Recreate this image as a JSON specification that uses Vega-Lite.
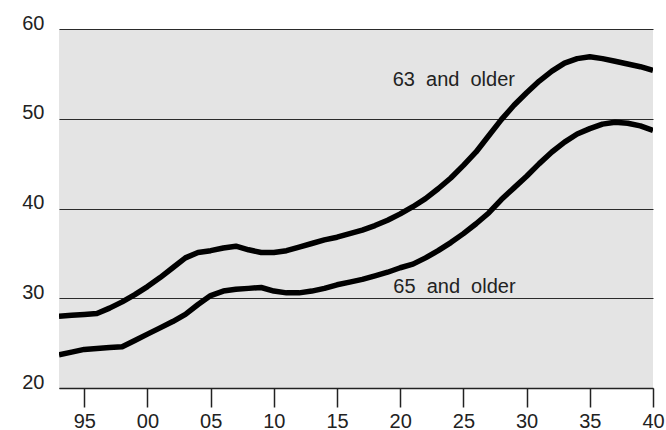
{
  "$schema": "https://vega.github.io/schema/vega-lite/v6.json",
  "autosize": {"type": "none"},
  "padding": {"left": 59, "top": 29, "right": 13, "bottom": 42},
  "width": 594,
  "height": 359,
  "config": {
    "view": {"fill": "#e4e4e4", "stroke": null},
    "font": "Liberation Sans"
  },
  "datasets": {
    "series": [
      {"year": 1993, "group": "63", "value": 28.0},
      {"year": 1994, "group": "63", "value": 28.1},
      {"year": 1995, "group": "63", "value": 28.2},
      {"year": 1996, "group": "63", "value": 28.3},
      {"year": 1997, "group": "63", "value": 28.9},
      {"year": 1998, "group": "63", "value": 29.6},
      {"year": 1999, "group": "63", "value": 30.4},
      {"year": 2000, "group": "63", "value": 31.3},
      {"year": 2001, "group": "63", "value": 32.3},
      {"year": 2002, "group": "63", "value": 33.4},
      {"year": 2003, "group": "63", "value": 34.5},
      {"year": 2004, "group": "63", "value": 35.1},
      {"year": 2005, "group": "63", "value": 35.3},
      {"year": 2006, "group": "63", "value": 35.6},
      {"year": 2007, "group": "63", "value": 35.8},
      {"year": 2008, "group": "63", "value": 35.4},
      {"year": 2009, "group": "63", "value": 35.1},
      {"year": 2010, "group": "63", "value": 35.1},
      {"year": 2011, "group": "63", "value": 35.3},
      {"year": 2012, "group": "63", "value": 35.7},
      {"year": 2013, "group": "63", "value": 36.1},
      {"year": 2014, "group": "63", "value": 36.5},
      {"year": 2015, "group": "63", "value": 36.8},
      {"year": 2016, "group": "63", "value": 37.2},
      {"year": 2017, "group": "63", "value": 37.6},
      {"year": 2018, "group": "63", "value": 38.1},
      {"year": 2019, "group": "63", "value": 38.7},
      {"year": 2020, "group": "63", "value": 39.4},
      {"year": 2021, "group": "63", "value": 40.2},
      {"year": 2022, "group": "63", "value": 41.1},
      {"year": 2023, "group": "63", "value": 42.2},
      {"year": 2024, "group": "63", "value": 43.4},
      {"year": 2025, "group": "63", "value": 44.8},
      {"year": 2026, "group": "63", "value": 46.3},
      {"year": 2027, "group": "63", "value": 48.1},
      {"year": 2028, "group": "63", "value": 49.9},
      {"year": 2029, "group": "63", "value": 51.5},
      {"year": 2030, "group": "63", "value": 52.9},
      {"year": 2031, "group": "63", "value": 54.2},
      {"year": 2032, "group": "63", "value": 55.3},
      {"year": 2033, "group": "63", "value": 56.2},
      {"year": 2034, "group": "63", "value": 56.7},
      {"year": 2035, "group": "63", "value": 56.9},
      {"year": 2036, "group": "63", "value": 56.7},
      {"year": 2037, "group": "63", "value": 56.4},
      {"year": 2038, "group": "63", "value": 56.1},
      {"year": 2039, "group": "63", "value": 55.8},
      {"year": 2040, "group": "63", "value": 55.4},
      {"year": 1993, "group": "65", "value": 23.7},
      {"year": 1994, "group": "65", "value": 24.0},
      {"year": 1995, "group": "65", "value": 24.3},
      {"year": 1996, "group": "65", "value": 24.4},
      {"year": 1997, "group": "65", "value": 24.5},
      {"year": 1998, "group": "65", "value": 24.6},
      {"year": 1999, "group": "65", "value": 25.3},
      {"year": 2000, "group": "65", "value": 26.0},
      {"year": 2001, "group": "65", "value": 26.7},
      {"year": 2002, "group": "65", "value": 27.4},
      {"year": 2003, "group": "65", "value": 28.2},
      {"year": 2004, "group": "65", "value": 29.3},
      {"year": 2005, "group": "65", "value": 30.3},
      {"year": 2006, "group": "65", "value": 30.8},
      {"year": 2007, "group": "65", "value": 31.0},
      {"year": 2008, "group": "65", "value": 31.1},
      {"year": 2009, "group": "65", "value": 31.2},
      {"year": 2010, "group": "65", "value": 30.8},
      {"year": 2011, "group": "65", "value": 30.6},
      {"year": 2012, "group": "65", "value": 30.6},
      {"year": 2013, "group": "65", "value": 30.8},
      {"year": 2014, "group": "65", "value": 31.1},
      {"year": 2015, "group": "65", "value": 31.5},
      {"year": 2016, "group": "65", "value": 31.8},
      {"year": 2017, "group": "65", "value": 32.1},
      {"year": 2018, "group": "65", "value": 32.5},
      {"year": 2019, "group": "65", "value": 32.9},
      {"year": 2020, "group": "65", "value": 33.4},
      {"year": 2021, "group": "65", "value": 33.8},
      {"year": 2022, "group": "65", "value": 34.5},
      {"year": 2023, "group": "65", "value": 35.3},
      {"year": 2024, "group": "65", "value": 36.2},
      {"year": 2025, "group": "65", "value": 37.2},
      {"year": 2026, "group": "65", "value": 38.3},
      {"year": 2027, "group": "65", "value": 39.5},
      {"year": 2028, "group": "65", "value": 41.0},
      {"year": 2029, "group": "65", "value": 42.3},
      {"year": 2030, "group": "65", "value": 43.6},
      {"year": 2031, "group": "65", "value": 45.0},
      {"year": 2032, "group": "65", "value": 46.3},
      {"year": 2033, "group": "65", "value": 47.4},
      {"year": 2034, "group": "65", "value": 48.3},
      {"year": 2035, "group": "65", "value": 48.9},
      {"year": 2036, "group": "65", "value": 49.4},
      {"year": 2037, "group": "65", "value": 49.6},
      {"year": 2038, "group": "65", "value": 49.5},
      {"year": 2039, "group": "65", "value": 49.2},
      {"year": 2040, "group": "65", "value": 48.7}
    ],
    "labels": [
      {"year": 2019.4, "value": 53.6, "label": "63\u00a0 and\u00a0 older"},
      {"year": 2019.45, "value": 30.6, "label": "65\u00a0 and\u00a0 older"}
    ]
  },
  "layer": [
    {
      "data": {"name": "series"},
      "mark": {"type": "line", "color": "#000000", "strokeWidth": 5.5, "strokeJoin": "round", "strokeCap": "butt", "clip": true},
      "encoding": {
        "x": {
          "field": "year", "type": "quantitative",
          "scale": {"domain": [1993, 2040], "nice": false, "zero": false},
          "axis": {
            "title": null,
            "values": [1995, 2000, 2005, 2010, 2015, 2020, 2025, 2030, 2035, 2040],
            "labelExpr": "slice(toString(datum.value), 2)",
            "grid": false,
            "domain": true, "domainColor": "#222222", "domainWidth": 1.5,
            "ticks": true, "tickColor": "#222222", "tickWidth": 1.5, "tickSize": 19,
            "labelFont": "Liberation Sans", "labelFontSize": 20, "labelColor": "#222222",
            "labelPadding": 4, "labelFlush": false, "labelOverlap": false
          }
        },
        "y": {
          "field": "value", "type": "quantitative",
          "scale": {"domain": [20, 60], "nice": false, "zero": false},
          "axis": {
            "title": null,
            "values": [20, 30, 40, 50, 60],
            "grid": true, "gridColor": "#2a2a2a", "gridWidth": 1.2, "gridOpacity": 1,
            "domain": false, "ticks": false,
            "labelFont": "Liberation Sans", "labelFontSize": 20, "labelColor": "#222222",
            "labelPadding": 15, "labelBaseline": "alphabetic", "labelFlush": false
          }
        },
        "detail": {"field": "group"}
      }
    },
    {
      "data": {"name": "labels"},
      "mark": {"type": "text", "align": "left", "baseline": "alphabetic", "fontSize": 20, "font": "Liberation Sans", "color": "#222222"},
      "encoding": {
        "x": {"field": "year", "type": "quantitative"},
        "y": {"field": "value", "type": "quantitative"},
        "text": {"field": "label"}
      }
    }
  ]
}
